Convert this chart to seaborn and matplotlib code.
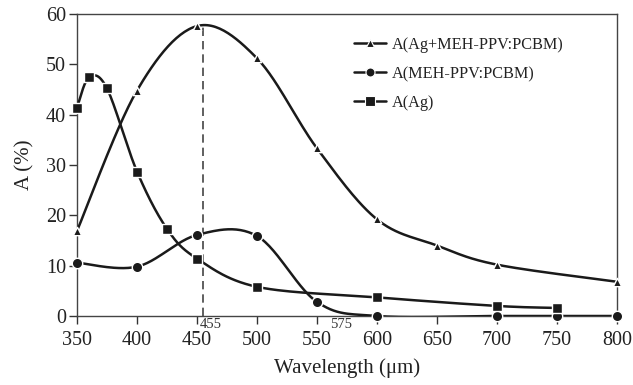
import numpy as np
import pandas as pd
import matplotlib
matplotlib.use("Agg")
import matplotlib.pyplot as plt
import seaborn as sns
from matplotlib.lines import Line2D

# ---- data ----
tri_x = [350, 400, 450, 500, 550, 600, 650, 700, 800]
tri_y = [16.9, 44.8, 57.6, 51.2, 33.3, 19.2, 14.0, 10.2, 6.8]

cir_x = [350, 400, 450, 500, 550, 600, 700, 750, 800]
cir_y = [10.6, 9.8, 16.1, 15.9, 2.8, 0.0, 0.0, 0.0, 0.0]

sq_x = [350, 360, 375, 400, 425, 450, 500, 600, 700, 750]
sq_y = [41.4, 47.4, 45.2, 28.7, 17.3, 11.4, 5.8, 3.7, 2.0, 1.6]

labels = ["A(Ag+MEH-PPV:PCBM)", "A(MEH-PPV:PCBM)", "A(Ag)"]
x_ticks = [350, 400, 450, 500, 550, 600, 650, 700, 750, 800]
y_ticks = [0, 10, 20, 30, 40, 50, 60]
peak_x = 455
peak_y = 57.9
notes = ["455", "575"]


def smooth(xs, ys, n=30):
    """Excel-style smoothed line (Catmull-Rom Bezier) through the points."""
    P = np.column_stack([xs, ys]).astype(float)
    out = []
    m = len(P)
    for i in range(m - 1):
        p0 = P[i - 1] if i > 0 else P[i]
        p1 = P[i]
        p2 = P[i + 1]
        p3 = P[i + 2] if i + 2 < m else P[i + 1]
        c1 = p1 + (p2 - p0) / 6.0
        c2 = p2 - (p3 - p1) / 6.0
        t = np.linspace(0, 1, n)[:, None]
        seg = ((1 - t) ** 3) * p1 + 3 * ((1 - t) ** 2) * t * c1 + 3 * (1 - t) * t ** 2 * c2 + t ** 3 * p2
        out.append(seg if i == 0 else seg[1:])
    S = np.vstack(out)
    return S[:, 0], S[:, 1]


sns.set_theme(style="ticks")
plt.rcParams["font.family"] = ["Liberation Serif", "DejaVu Serif"]
plt.rcParams["mathtext.fontset"] = "stix"

fig = plt.figure(figsize=(6.33, 3.85), dpi=100)
ax = fig.add_axes([77 / 633, 1 - 316 / 385, 540 / 633, 302 / 385])

col = "#1a1a1a"
series = [
    (tri_x, tri_y, "^", 6.0),
    (cir_x, cir_y, "o", 7.5),
    (sq_x, sq_y, "s", 7.5),
]

for xs, ys, mk, ms in series:
    sx, sy = smooth(xs, ys)
    ax.plot(sx, sy, color=col, lw=1.8, zorder=3, solid_capstyle="butt")
    df = pd.DataFrame({"x": xs, "y": ys})
    sns.scatterplot(data=df, x="x", y="y", marker=mk, s=ms ** 2, color=col,
                    edgecolor="white", linewidth=1.0, ax=ax, zorder=4, clip_on=False)

# dashed vertical marker line at the peak
ax.plot([peak_x, peak_x], [0, peak_y], color="#444444", lw=1.2, ls=(0, (5, 3)), zorder=2)

ax.set_xlim(350, 800)
ax.set_ylim(0, 60)
ax.set_xticks(x_ticks)
ax.set_yticks(y_ticks)
ax.tick_params(axis="both", direction="out", length=6, width=1.0, color="#333333",
               labelsize=14.5, labelcolor="#222222")
ax.tick_params(axis="x", pad=5)
ax.tick_params(axis="y", pad=2)
for s in ax.spines.values():
    s.set_color("#444444")
    s.set_linewidth(1.0)

ax.set_xlabel("Wavelength (μm)", fontsize=15, color="#222222", labelpad=6)
ax.set_ylabel("A (%)", fontsize=15, color="#222222", labelpad=8)

# small annotations below the axis
ax.text(452.5, -0.4, notes[0], fontsize=10.5, color="#333333", ha="left", va="top",
        transform=ax.transData, clip_on=False)
ax.text(570, -0.4, notes[1], fontsize=10.5, color="#333333", ha="center", va="top",
        transform=ax.transData, clip_on=False)

handles = [
    Line2D([], [], color=col, lw=1.8, marker="^", ms=5.5, mfc=col, mec="white", mew=0.8),
    Line2D([], [], color=col, lw=1.8, marker="o", ms=6.5, mfc=col, mec="white", mew=0.8),
    Line2D([], [], color=col, lw=1.8, marker="s", ms=6.5, mfc=col, mec="white", mew=0.8),
]
leg = ax.legend(handles, labels, loc="upper left", bbox_to_anchor=(0.5, 0.945),
                frameon=False, fontsize=11.7, handlelength=2.0, handletextpad=0.35,
                labelspacing=0.8, borderaxespad=0)
for t in leg.get_texts():
    t.set_color("#222222")

fig.savefig("out.png", dpi=100)
